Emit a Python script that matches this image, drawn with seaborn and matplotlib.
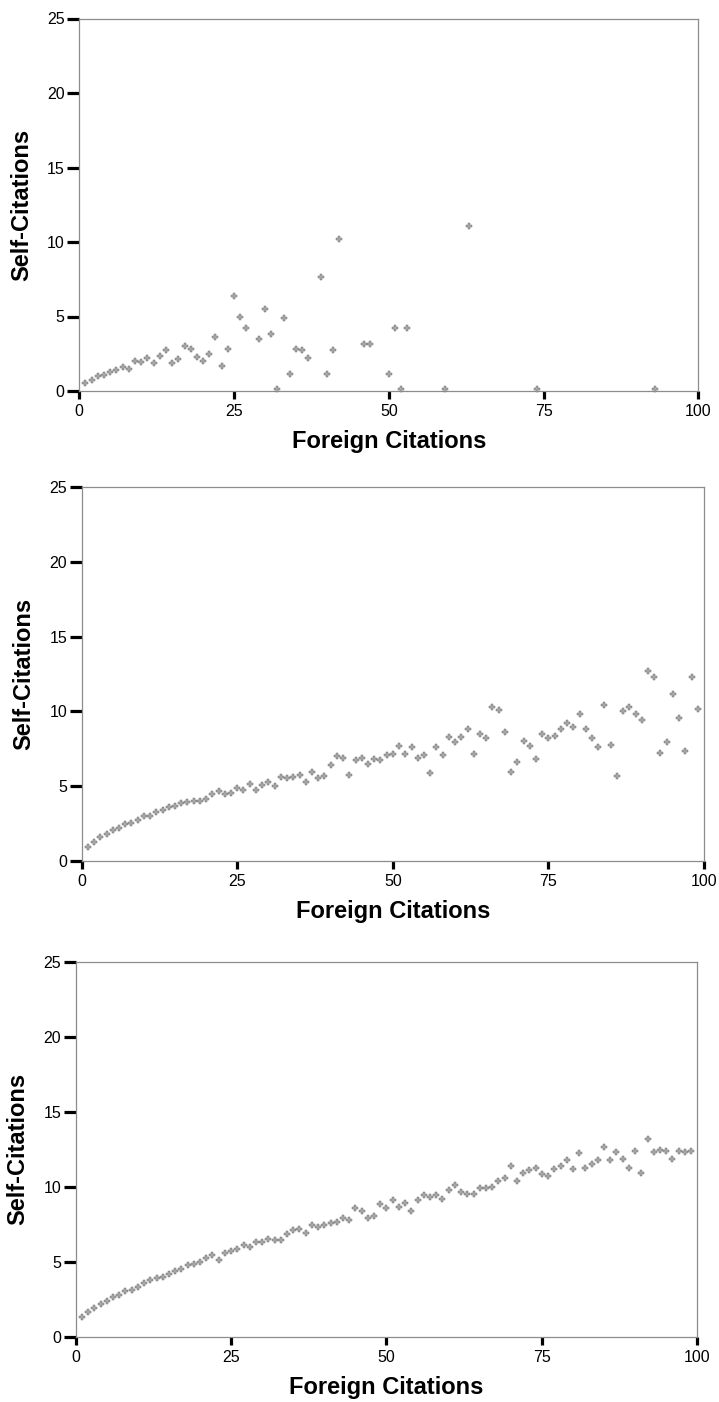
import matplotlib
matplotlib.use("Agg")
import matplotlib.pyplot as plt
import seaborn as sns
import pandas as pd

# ---------------- data ----------------
p1_foreign = [1, 2, 3, 4, 5, 6, 7, 8, 9, 10, 11, 12, 13, 14, 15, 16, 17, 18, 19, 20,
              21, 22, 23, 24, 25, 26, 27, 29, 30, 31, 32, 33, 34, 35, 36, 37, 39, 40,
              41, 42, 46, 47, 50, 51, 52, 53, 59, 63, 74, 93]
p1_self = [0.52, 0.72, 0.98, 1.05, 1.25, 1.39, 1.59, 1.45, 1.99, 1.92, 2.19, 1.86, 2.35,
           2.73, 1.86, 2.13, 3.02, 2.80, 2.26, 1.99, 2.46, 3.60, 1.66, 2.80, 6.35, 4.97,
           4.20, 3.47, 5.48, 3.80, 0.15, 4.88, 1.14, 2.80, 2.73, 2.19, 7.63, 1.14, 2.73,
           10.18, 3.13, 3.13, 1.14, 4.20, 0.15, 4.20, 0.15, 11.10, 0.15, 0.15]

p2_foreign = list(range(1, 100))
p2_self = [0.94, 1.23, 1.57, 1.79, 2.05, 2.17, 2.46, 2.50, 2.72, 2.99,
           2.97, 3.26, 3.39, 3.59, 3.66, 3.88, 3.93, 4.00, 3.98, 4.13,
           4.46, 4.64, 4.44, 4.53, 4.87, 4.71, 5.13, 4.71, 5.07, 5.27,
           5.02, 5.62, 5.51, 5.58, 5.74, 5.29, 5.94, 5.51, 5.65, 6.41,
           7.03, 6.87, 5.72, 6.72, 6.87, 6.45, 6.79, 6.72, 7.05, 7.14,
           7.65, 7.14, 7.61, 6.85, 7.05, 5.87, 7.61, 7.07, 8.28, 7.92,
           8.28, 8.82, 7.14, 8.48, 8.21, 10.27, 10.07, 8.61, 5.92, 6.59,
           8.01, 7.65, 6.79, 8.48, 8.21, 8.32, 8.82, 9.22, 8.95, 9.82,
           8.82, 8.21, 7.61, 10.42, 7.74, 5.65, 10.02, 10.27, 9.82, 9.42,
           12.70, 12.30, 7.21, 7.92, 11.16, 9.55, 7.34, 12.30, 10.15]

p3_foreign = list(range(1, 100))
p3_self = [1.29, 1.63, 1.89, 2.18, 2.38, 2.65, 2.78, 3.05, 3.09, 3.31,
           3.58, 3.76, 3.89, 3.98, 4.18, 4.38, 4.51, 4.78, 4.82, 4.98,
           5.22, 5.45, 5.09, 5.56, 5.71, 5.82, 6.11, 5.96, 6.29, 6.29,
           6.51, 6.42, 6.42, 6.82, 7.11, 7.16, 6.89, 7.42, 7.29, 7.42,
           7.58, 7.62, 7.91, 7.76, 8.58, 8.38, 7.89, 8.02, 8.85, 8.58,
           9.11, 8.63, 8.91, 8.38, 9.11, 9.45, 9.31, 9.45, 9.16, 9.78,
           10.11, 9.63, 9.49, 9.49, 9.91, 9.91, 9.98, 10.38, 10.58, 11.40,
           10.38, 10.91, 11.11, 11.27, 10.85, 10.73, 11.18, 11.38, 11.78, 11.18,
           12.22, 11.25, 11.49, 11.78, 12.65, 11.78, 12.29, 11.85, 11.25, 12.36,
           10.89, 13.16, 12.29, 12.45, 12.36, 11.85, 12.36, 12.29, 12.38]

x_ticks = [0, 25, 50, 75, 100]
y_ticks = [0, 5, 10, 15, 20, 25]
x_label = "Foreign Citations"
y_label = "Self-Citations"

# ---------------- style ----------------
sns.set_theme(style="white")
plt.rcParams["font.family"] = ["Liberation Sans", "DejaVu Sans"]
plt.rcParams["text.color"] = "black"
plt.rcParams["axes.labelcolor"] = "black"
plt.rcParams["xtick.color"] = "black"
plt.rcParams["ytick.color"] = "black"
plt.rcParams["xtick.labelcolor"] = "black"
plt.rcParams["ytick.labelcolor"] = "black"

W, H = 719, 1402
fig = plt.figure(figsize=(W / 100, H / 100), dpi=100)

# axes boxes in pixels: left, right, top, bottom
boxes = [(79.3, 698.3, 18.5, 391.0),
         (81.7, 704.0, 487.3, 860.7),
         (75.7, 697.3, 961.7, 1336.7)]
datasets = [(p1_foreign, p1_self), (p2_foreign, p2_self), (p3_foreign, p3_self)]

for (l, r, t, b), (xs, ys) in zip(boxes, datasets):
    ax = fig.add_axes([l / W, (H - b) / H, (r - l) / W, (b - t) / H])
    df = pd.DataFrame({"x": xs, "y": ys})
    sns.scatterplot(data=df, x="x", y="y", ax=ax, marker="P", s=13,
                    color="#a8a8a8", edgecolor="#707070", linewidth=0.35,
                    clip_on=False, zorder=3)
    ax.set_xlim(0, 100)
    ax.set_ylim(0, 25)
    ax.set_xticks(x_ticks)
    ax.set_yticks(y_ticks)
    ax.set_xticklabels([str(v) for v in x_ticks])
    ax.set_yticklabels([str(v) for v in y_ticks])
    for sp in ax.spines.values():
        sp.set_visible(True)
        sp.set_color("#8c8c8c")
        sp.set_linewidth(0.9)
    ax.tick_params(axis="y", which="major", direction="out", length=9, width=2.3,
                   color="black", labelcolor="black", labelsize=11.5, pad=1.5, left=True)
    ax.tick_params(axis="x", which="major", direction="out", length=5.5, width=2.3,
                   color="black", labelcolor="black", labelsize=11.5, pad=4, bottom=True)
    ax.set_xlabel(x_label, fontsize=17, fontweight="bold", va="center", color="black")
    ax.set_ylabel(y_label, fontsize=17, fontweight="bold", va="center", color="black")
    wpx, hpx = r - l, b - t
    ax.xaxis.set_label_coords(0.5, -50.7 / hpx)
    ax.yaxis.set_label_coords(-57.5 / wpx, 0.5)

fig.savefig("out.png", dpi=100)
